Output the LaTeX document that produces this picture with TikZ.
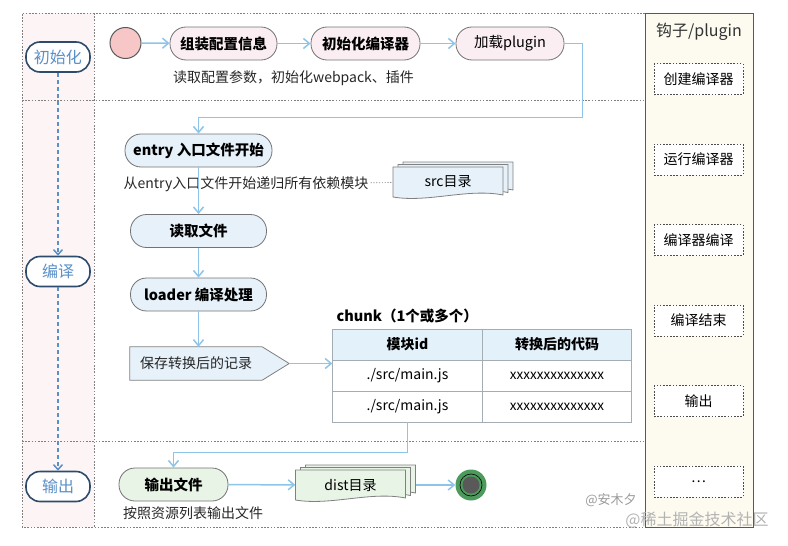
\documentclass[tikz,border=0pt]{standalone}
\usepackage{fontspec}
\setmainfont{Noto Sans CJK SC}
\usetikzlibrary{arrows.meta,positioning,calc,backgrounds}

\definecolor{lanefill}{HTML}{FDF5F5}
\definecolor{hookfill}{HTML}{FDFBF0}
\definecolor{lanedark}{HTML}{2D4B6D}
\definecolor{lanetext}{HTML}{5A8FC8}
\definecolor{flowblue}{HTML}{8EC4E8}
\definecolor{stepink}{HTML}{FBEEF3}
\definecolor{stepblue}{HTML}{E6F1FA}
\definecolor{stepgreen}{HTML}{E8F4E6}
\definecolor{startpink}{HTML}{F7C6C6}
\definecolor{endgreen}{HTML}{4C9A5C}
\definecolor{tablehead}{HTML}{E3F1FB}
\definecolor{tablegray}{HTML}{A4ACB4}

\tikzset{
  frameline/.style={draw=black!50, line width=0.8pt, dash pattern=on 1.6pt off 1.6pt},
  lane/.style={draw=lanedark, line width=1.6pt, rounded corners=14pt, fill=white, text=lanetext,
    minimum width=64pt, minimum height=30pt, inner sep=0pt, font=\fontsize{16}{18}\selectfont},
  lanearrow/.style={draw=lanetext, line width=1.5pt, dash pattern=on 4pt off 3pt, -{Straight Barb[length=5pt,width=9pt]}},
  flow/.style={draw=flowblue, line width=1.5pt, -{Straight Barb[length=6pt,width=10pt]}},
  stepbox/.style={draw=black!55, line width=0.8pt, rounded corners=16pt, minimum height=33pt,
    inner sep=0pt, font=\fontsize{14.5}{17}\selectfont\bfseries},
  pinkstep/.style={stepbox, fill=stepink},
  bluestep/.style={stepbox, fill=stepblue},
  greenstep/.style={stepbox, fill=stepgreen},
  docline/.style={draw=black!50, line width=0.8pt},
  cell/.style={draw=tablegray, line width=0.9pt, minimum width=149.5pt, minimum height=31pt, inner sep=0pt},
  cellhead/.style={cell, fill=tablehead, font=\fontsize{14}{17}\selectfont\bfseries},
  hookbox/.style={draw=black!70, line width=0.7pt, dash pattern=on 1.6pt off 1.6pt, fill=white,
    minimum width=89pt, minimum height=31pt, inner sep=0pt}
}

% stacked document: name, centre, text, fill
\newcommand{\docstack}[4]{%
  \begin{scope}[shift={#2}]
    \foreach \dx/\dy in {10/-5, 5/-2.5, 0/0}{
      \draw[docline, fill=#4, shift={(\dx,\dy)}] (-55,-15) -- (55,-15) -- (55,13)
        .. controls (20,6) and (-20,21) .. (-55,15) -- cycle;
    }
    \coordinate (#1-back) at (65,0);
  \end{scope}
  \node[minimum width=110pt, minimum height=29pt, inner sep=0pt] (#1) at #2 {#3};
}

\begin{document}
\begin{tikzpicture}[x=1pt, y=-1pt, font=\fontsize{14}{17}\selectfont]
  \useasboundingbox (0,0) rectangle (788,546);

  % Lanes and frame
  \fill[lanefill] (22,13) rectangle (94,527);
  \draw[frameline] (645,13) -- (22,13) -- (22,527) -- (645,527);
  \draw[frameline] (94,13) -- (94,527);
  \draw[frameline] (22,100) -- (645,100);
  \draw[frameline] (22,441) -- (645,441);

  \node[lane] (init) at (58,57) {初始化};
  \node[lane] (comp) at (58,271.5) {编译};
  \node[lane] (outp) at (58,486.5) {输出};
  \draw[lanearrow] (init) -- (comp);
  \draw[lanearrow] (comp) -- (outp);

  % Hooks column
  \draw[draw=black!65, line width=1pt, fill=hookfill] (645,13) rectangle (753,527);
  \node[font=\fontsize{16}{18}\selectfont, text=black!80] (hooktitle) at (699,32) {钩子/plugin};
  \foreach \t [count=\i] in {创建编译器, 运行编译器, 编译器编译, 编译结束, 输出}{
    \pgfmathsetmacro{\hy}{79+(\i-1)*80.5}
    \node[hookbox] (hook\i) at (698.5,\hy) {\t};
  }
  \node[hookbox] (hook6) at (698.5,481.5) {…};

  % Init stage
  \node[circle, draw=black!65, line width=1pt, fill=startpink, minimum size=31pt, inner sep=0pt] (start) at (125.5,43) {};
  \node[pinkstep, minimum width=107pt] (assemble) at (223.5,43.5) {组装配置信息};
  \node[pinkstep, minimum width=109pt] (initcomp) at (365.5,43.5) {初始化编译器};
  \node[pinkstep, minimum width=108pt, font=\fontsize{14.5}{17}\selectfont] (loadplug) at (510,43.5) {加载plugin};
  \node[text=black!85] (readcfg) at (293.5,78) {读取配置参数，初始化webpack、插件};
  \draw[flow] (start) -- (assemble);
  \draw[flow] (assemble) -- (initcomp);
  \draw[flow] (initcomp) -- (loadplug);

  % Compile stage
  \node[bluestep, minimum width=147pt] (entry) at (198.5,150.5) {entry 入口文件开始};
  \node[bluestep, minimum width=136pt] (readf) at (198.5,231) {读取文件};
  \node[bluestep, minimum width=136pt] (loader) at (198.5,294.5) {loader 编译处理};
  \node[text=black!85, inner sep=2pt] (recur) at (246,184) {从entry入口文件开始递归所有依赖模块};
  \docstack{src}{(448,182)}{src目录}{stepblue}
  \draw[draw=black!45, line width=0.7pt, dash pattern=on 1.2pt off 1.6pt] (recur) -- (src);

  \draw[flow] (loadplug.east) -- ++(18,0) -- ++(0,74) -| (entry.north);
  \draw[flow] (entry) -- (readf);
  \draw[flow] (readf) -- (loader);

  \node[minimum width=132pt, minimum height=33pt, inner sep=0pt, text=black!85] (save) at (196,363.5) {保存转换后的记录};
  \begin{scope}[on background layer]
    \draw[docline, fill=stepblue] (save.north west) -- (save.north east) -- ($(save.east)+(27,0)$)
      -- (save.south east) -- (save.south west) -- cycle;
  \end{scope}
  \coordinate (savetip) at ($(save.east)+(27,0)$);
  \draw[flow] (loader.south) -- (loader.south |- save.north);

  % Chunk table
  \node[anchor=west, font=\fontsize{14.5}{17}\selectfont\bfseries] (chunk) at (333,316) {chunk（1个或多个）};
  \node[cellhead] (h1) at (407.5,344.5) {模块id};
  \node[cellhead] (h2) at (557,344.5) {转换后的代码};
  \foreach \r/\ry in {1/375.5, 2/406.5}{
    \node[cell] (r\r c1) at (407.5,\ry) {./src/main.js};
    \node[cell, font=\fontsize{13.5}{15}\selectfont] (r\r c2) at (557,\ry) {xxxxxxxxxxxxxx};
  }
  \draw[flow] (savetip) -- (savetip -| r1c1.west);

  % Output stage
  \node[greenstep, minimum width=109pt] (outfile) at (173.5,484.5) {输出文件};
  \node[text=black!85] (listout) at (193,513) {按照资源列表输出文件};
  \docstack{dist}{(350.5,485)}{dist目录}{stepgreen}
  \node[circle, fill=endgreen, minimum size=31pt, inner sep=0pt] (finish) at (471,485) {};
  \draw[black, line width=0.6pt] (finish.center) circle (11pt);
  \fill[black!65] (finish.center) circle (8.5pt);

  \draw[flow] (r2c1.south) -- ++(0,30) -| (outfile.north);
  \draw[flow] (outfile) -- (dist);
  \draw[flow] (dist-back) -- (finish);

  % Marks
  \node[text=black!40, font=\fontsize{13}{15}\selectfont] (mark1) at (611,500) {@安木夕};
  \node[text=black!30, font=\fontsize{16}{18}\selectfont] (mark2) at (697,520) {@稀土掘金技术社区};
\end{tikzpicture}
\end{document}
